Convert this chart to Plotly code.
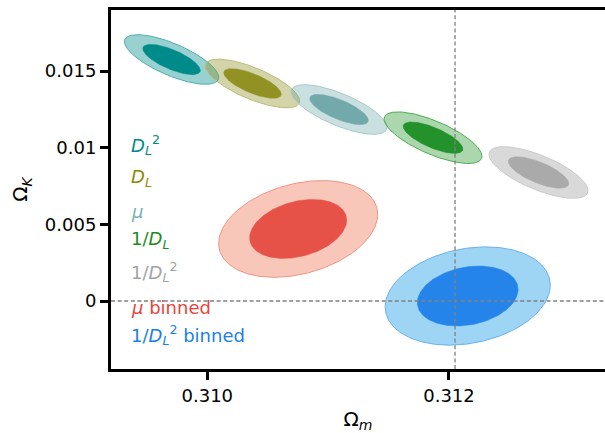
import numpy as np
import plotly.graph_objects as go

# ---- data ----
labels = ["<i>D</i><sub><i>L</i></sub><sup>2</sup>",
          "<i>D</i><sub><i>L</i></sub>",
          "<i>μ</i>",
          "1/<i>D</i><sub><i>L</i></sub>",
          "1/<i>D</i><sub><i>L</i></sub><sup>2</sup>",
          "<i>μ</i> binned",
          "1/<i>D</i><sub><i>L</i></sub><sup>2</sup> binned"]
om_center = [0.309704, 0.310374, 0.311090, 0.311868, 0.312741, 0.310752, 0.312155]
ok_center = [0.01575, 0.014185, 0.012489, 0.01065, 0.00838, 0.0047, 0.000326]
om_sigma = [0.000157, 0.000157, 0.000160, 0.000163, 0.000165, 0.000265, 0.000275]
ok_sigma = [0.000652, 0.000639, 0.000652, 0.000678, 0.000678, 0.00127, 0.00129]
rho = [-0.72, -0.72, -0.72, -0.72, -0.70, 0.30, 0.22]
fid_om = 0.31205
fid_ok = 0.0
x_ticks = [0.310, 0.312]
x_ticklabels = ["0.310", "0.312"]
y_ticks = [0.0, 0.005, 0.01, 0.015]
y_ticklabels = ["0", "0.005", "0.01", "0.015"]
dchi2 = [6.17, 2.30]  # 2-sigma, 1-sigma

# ---- styles ----
inner_col = ["#008B8B", "#929224", "#72A9AB", "#23922A", "#AAAAAA", "#E65247", "#2484E9"]
outer_col = ["rgba(0,139,139,0.40)", "rgba(143,143,31,0.38)", "rgba(95,158,160,0.33)",
             "rgba(35,146,42,0.38)", "rgba(160,160,160,0.40)", "rgba(240,120,90,0.42)",
             "rgba(40,160,230,0.45)"]
edge_col = ["#4DB0B0", "#BCBC78", "#A6CACD", "#4CAF50", "#CACACA", "#EE9585", "#6AB2EE"]
text_col = ["#008B8B", "#8B8B00", "#7AB0B2", "#1E8B1E", "#A3A3A3", "#E8453C", "#1A7FE8"]

fig = go.Figure()
t = np.linspace(0, 2 * np.pi, 241)
for i in range(len(om_center)):
    for j, d in enumerate(dchi2):
        k = np.sqrt(d)
        x = om_center[i] + k * om_sigma[i] * np.cos(t)
        y = ok_center[i] + k * ok_sigma[i] * (rho[i] * np.cos(t) + np.sqrt(1 - rho[i] ** 2) * np.sin(t))
        if j == 0:
            fig.add_trace(go.Scatter(x=x, y=y, mode="lines", fill="toself",
                                     fillcolor=outer_col[i],
                                     line=dict(color=edge_col[i], width=1),
                                     hoverinfo="skip", showlegend=False))
        else:
            fig.add_trace(go.Scatter(x=x, y=y, mode="lines", fill="toself",
                                     fillcolor=inner_col[i],
                                     line=dict(color=inner_col[i], width=0.5),
                                     hoverinfo="skip", showlegend=False))

W, H = 605, 433
L, R, T, B = 111, 0, 10, 64
ph = H - T - B
pw = W - L - R

fig.add_shape(type="line", xref="x", yref="paper", x0=fid_om, x1=fid_om, y0=0, y1=1,
              line=dict(color="#808080", width=1.3, dash="4px,2.6px"), layer="above")
fig.add_shape(type="line", xref="paper", yref="y", x0=0, x1=1, y0=fid_ok, y1=fid_ok,
              line=dict(color="#808080", width=1.3, dash="4px,2.6px"), layer="above")

label_x = 129
label_py = [145, 178, 212, 240, 272, 307, 335]
for i, lab in enumerate(labels):
    fig.add_annotation(text=lab, xref="paper", yref="paper",
                       x=(label_x - L) / pw, y=(H - B - label_py[i]) / ph,
                       xanchor="left", yanchor="middle", showarrow=False,
                       font=dict(color=text_col[i], size=18, family="DejaVu Sans"))

fig.update_layout(
    width=W, height=H,
    margin=dict(l=L, r=R, t=T, b=B),
    paper_bgcolor="white", plot_bgcolor="white",
    font=dict(family="DejaVu Sans", color="black", size=18),
    xaxis=dict(range=[0.309203, 0.313291], tickvals=x_ticks, ticktext=x_ticklabels,
               showgrid=False, zeroline=False, showline=True, linecolor="black",
               linewidth=3, mirror=True, ticks="outside", ticklen=8, tickwidth=3,
               tickcolor="black", tickfont=dict(size=18), automargin=False,
               title=dict(text="Ω<sub><i>m</i></sub>", font=dict(size=20), standoff=14)),
    yaxis=dict(range=[-0.004435, 0.018978], tickvals=y_ticks, ticktext=y_ticklabels,
               showgrid=False, zeroline=False, showline=True, linecolor="black",
               linewidth=3, mirror=False, ticks="outside", ticklen=8, tickwidth=3,
               tickcolor="black", tickfont=dict(size=18), automargin=False,
               title=dict(text="Ω<sub><i>K</i></sub>", font=dict(size=20), standoff=12)),
)

fig.write_html("out.html", config={"displayModeBar": False},
               post_script="document.body.style.margin='0';document.body.style.padding='0';")
